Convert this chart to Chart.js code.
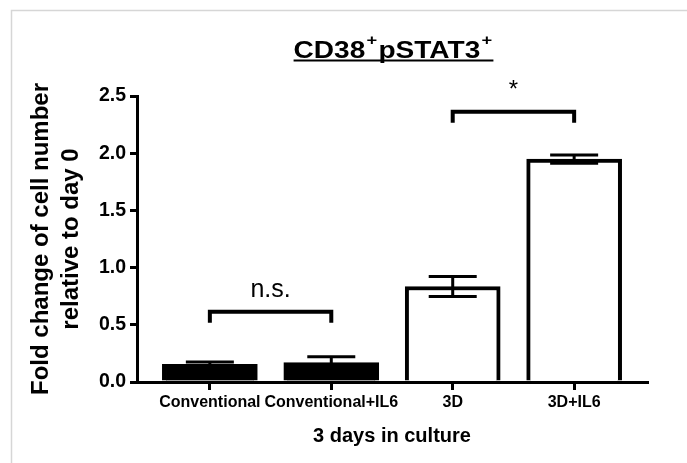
<!DOCTYPE html>
<html>
<head>
<meta charset="utf-8">
<script src="https://cdn.jsdelivr.net/npm/chart.js@4"></script>
<style>
  html, body { margin: 0; padding: 0; background: #fff; }
</style>
</head>
<body>
<canvas id="chart" width="687" height="463"></canvas>
<script>
// values
const categories = ['Conventional', 'Conventional+IL6', '3D', '3D+IL6'];
const foldChange = [0.155, 0.17, 0.835, 1.948];
const sem = [0.02, 0.05, 0.088, 0.036];
const barColors = ['#000000', '#000000', '#ffffff', '#ffffff'];
const yTicks = [0, 0.5, 1.0, 1.5, 2.0, 2.5];

// significance brackets (between category indexes)
const bracketFrom = [0, 2];
const bracketTo = [1, 3];
const bracketHeight = [0.615, 2.363];
const bracketLabel = ['n.s.', '*'];

const FONT = '"Liberation Sans", Arial, Helvetica, sans-serif';

const figurePlugin = {
  id: 'figure',
  beforeDraw(chart) {
    const ctx = chart.ctx;
    ctx.save();
    ctx.fillStyle = '#fff';
    ctx.fillRect(0, 0, chart.width, chart.height);
    // faint frame of the original slide
    ctx.strokeStyle = '#d6d6d6';
    ctx.lineWidth = 1.5;
    ctx.beginPath();
    ctx.moveTo(11.5, chart.height);
    ctx.lineTo(11.5, 10.5);
    ctx.lineTo(chart.width, 10.5);
    ctx.stroke();
    ctx.restore();
  },
  afterDatasetsDraw(chart) {
    const ctx = chart.ctx, xs = chart.scales.x, ys = chart.scales.y;
    ctx.save();
    ctx.strokeStyle = '#000';
    ctx.fillStyle = '#000';

    // error bars (SEM)
    ctx.lineWidth = 3;
    foldChange.forEach((v, i) => {
      const x = xs.getPixelForValue(i);
      const hi = ys.getPixelForValue(v + sem[i]);
      const lo = ys.getPixelForValue(v - sem[i]);
      ctx.beginPath();
      ctx.moveTo(x, hi); ctx.lineTo(x, lo);
      ctx.moveTo(x - 24, hi); ctx.lineTo(x + 24, hi);
      ctx.moveTo(x - 24, lo); ctx.lineTo(x + 24, lo);
      ctx.stroke();
    });

    // brackets + labels
    ctx.lineWidth = 4;
    ctx.textAlign = 'center';
    ctx.textBaseline = 'alphabetic';
    bracketFrom.forEach((a, k) => {
      const x1 = xs.getPixelForValue(a);
      const x2 = xs.getPixelForValue(bracketTo[k]);
      const y = ys.getPixelForValue(bracketHeight[k]);
      ctx.beginPath();
      ctx.moveTo(x1, y + 11);
      ctx.lineTo(x1, y);
      ctx.lineTo(x2, y);
      ctx.lineTo(x2, y + 11);
      ctx.stroke();
      ctx.font = (bracketLabel[k] === '*' ? '24px ' : '25px ') + FONT;
      ctx.fillText(bracketLabel[k], (x1 + x2) / 2, y - 15);
    });
    ctx.restore();
  },
  afterDraw(chart) {
    // title: CD38+pSTAT3+ with superscripts, underlined
    const ctx = chart.ctx;
    const parts = [['CD38', false], ['+', true], ['pSTAT3', false], ['+', true]];
    const mainFont = 'bold 23px ' + FONT;
    const supFont = 'bold 15px ' + FONT;
    const sx = 1.22;
    ctx.save();
    let w = 0;
    parts.forEach(p => {
      ctx.font = p[1] ? supFont : mainFont;
      w += ctx.measureText(p[0]).width + (p[1] ? 2 : 0);
    });
    ctx.translate(393.5, 0);
    ctx.scale(sx, 1);
    ctx.fillStyle = '#000';
    ctx.textAlign = 'left';
    ctx.textBaseline = 'alphabetic';
    let x = -w / 2;
    parts.forEach(p => {
      ctx.font = p[1] ? supFont : mainFont;
      if (p[1]) {
        ctx.fillText(p[0], x + 1, 45);
        x += ctx.measureText(p[0]).width + 2;
      } else {
        ctx.fillText(p[0], x, 58);
        x += ctx.measureText(p[0]).width;
      }
    });
    ctx.fillRect(-w / 2, 59.5, w, 2);
    ctx.restore();
  }
};

new Chart(document.getElementById('chart'), {
  type: 'bar',
  data: {
    datasets: [{
      data: foldChange.map((v, i) => ({ x: i, y: v })),
      backgroundColor: barColors,
      borderColor: '#000',
      borderWidth: 4,
      borderSkipped: 'bottom',
      barThickness: 95
    }]
  },
  options: {
    responsive: false,
    animation: false,
    layout: { padding: { top: 96, right: 40, left: 0, bottom: 0 } },
    plugins: { legend: { display: false }, tooltip: { enabled: false } },
    scales: {
      x: {
        type: 'linear',
        min: -0.6,
        max: 3.6,
        offset: false,
        afterBuildTicks: s => { s.ticks = categories.map((c, i) => ({ value: i })); },
        afterFit: s => { s.height = 81; },
        ticks: {
          autoSkip: false, maxRotation: 0, padding: 3, color: '#000',
          font: { family: FONT, size: 16, weight: 'bold' },
          callback: v => categories[v]
        },
        grid: { offset: false, drawOnChartArea: false, drawTicks: true, tickLength: 8, color: '#000', lineWidth: 3 },
        border: { color: '#000', width: 3 },
        title: {
          display: true, text: '3 days in culture', color: '#000',
          font: { family: FONT, size: 20, weight: 'bold' },
          padding: { top: 0, bottom: 15 }
        }
      },
      y: {
        min: 0,
        max: 2.5,
        afterBuildTicks: s => { s.ticks = yTicks.map(v => ({ value: v })); },
        afterFit: s => { s.width = 137; },
        ticks: {
          padding: 4, color: '#000',
          font: { family: FONT, size: 19.5, weight: 'bold' },
          callback: v => v.toFixed(1)
        },
        grid: { drawOnChartArea: false, drawTicks: true, tickLength: 7, color: '#000', lineWidth: 3 },
        border: { color: '#000', width: 3 },
        title: {
          display: true, text: ['Fold change of cell number', 'relative to day 0'], color: '#000',
          font: { family: FONT, size: 24, weight: 'bold', lineHeight: 1.27 },
          padding: { top: 26, bottom: 0 }
        }
      }
    }
  },
  plugins: [figurePlugin]
});
</script>
</body>
</html>
